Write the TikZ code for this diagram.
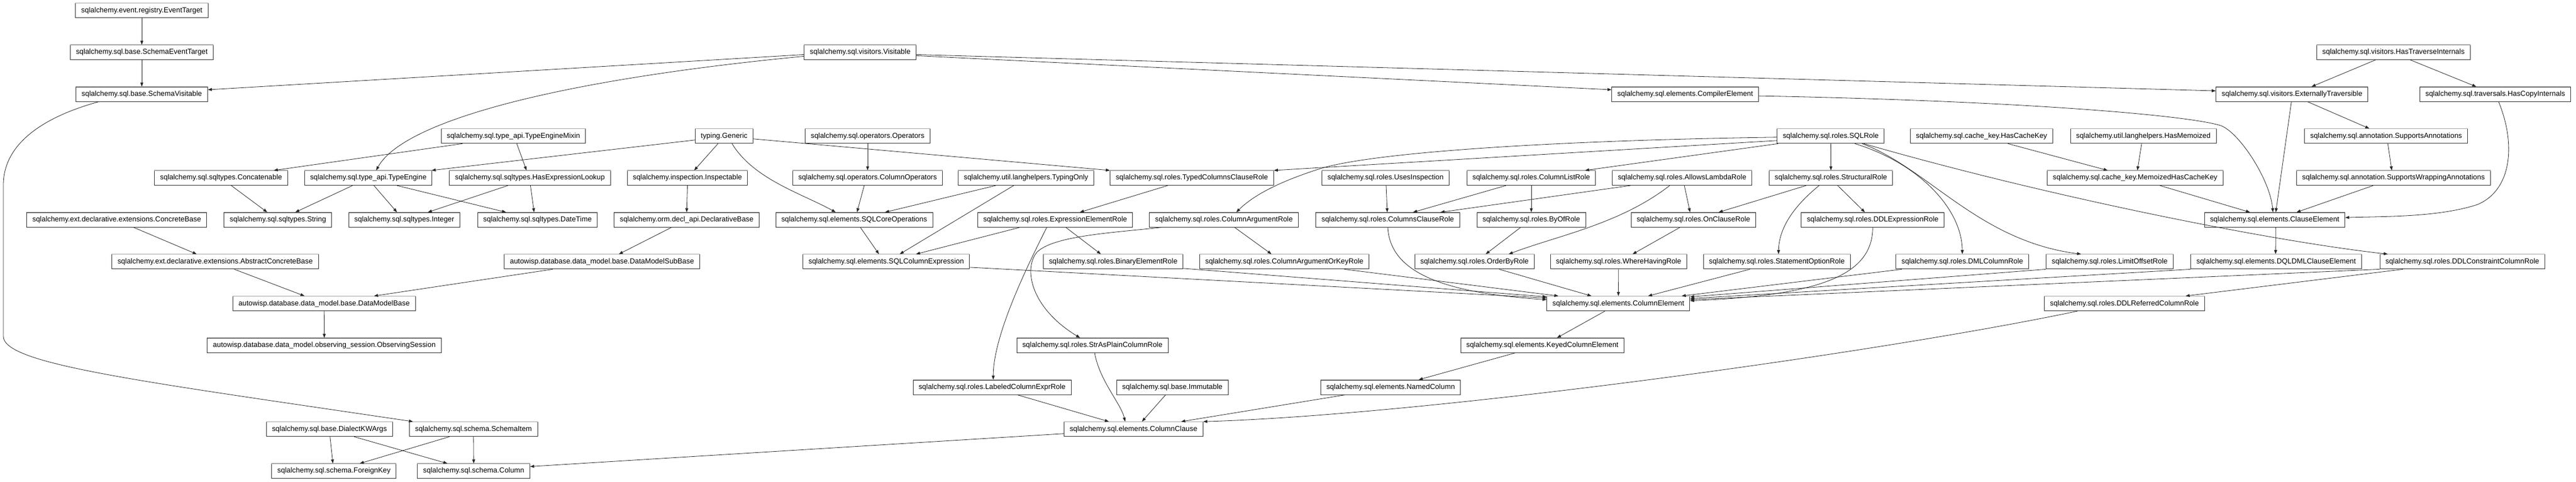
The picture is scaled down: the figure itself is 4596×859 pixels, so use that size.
\documentclass[tikz,border=0pt]{standalone}
\usepackage{fontspec}
\setmainfont{Liberation Sans}
\usetikzlibrary{arrows.meta,calc}
\tikzset{
  cls/.style={draw=black!80, line width=0.5pt, fill=white, inner xsep=5pt, inner ysep=0pt,
    minimum height=13pt, text height=4.8pt, text depth=1.4pt,
    font=\fontsize{6.45pt}{7pt}\selectfont,
    append after command={(\tikzlastnode.north west) edge[draw=black!35, line width=0.6pt] (\tikzlastnode.north east)}},
  inh/.style={draw=black!85, line width=0.4pt, -{Triangle[length=3.6pt,width=2.6pt]}}
}
\newcommand\inhSN[4]{\draw[inh] ($(#1.south)+(#2,0)$) -- ($(#3.north)+(#4,0)$);}
\begin{document}
\begin{tikzpicture}[x=0.5pt,y=-0.5pt]
\fill[white] (0,0) rectangle (4596,859);
\useasboundingbox (0,0) rectangle (4596,859);
% rank 0
\node[cls] (et) at (253,18.7) {sqlalchemy.event.registry.EventTarget};
% rank 1
\node[cls] (set) at (253,93.4) {sqlalchemy.sql.base.SchemaEventTarget};
\node[cls] (vis) at (1534.7,93.4) {sqlalchemy.sql.visitors.Visitable};
\node[cls] (hti) at (4270.3,93.4) {sqlalchemy.sql.visitors.HasTraverseInternals};
% rank 2
\node[cls] (sv) at (253,168.1) {sqlalchemy.sql.base.SchemaVisitable};
\node[cls] (ce) at (3006.7,168.1) {sqlalchemy.sql.elements.CompilerElement};
\node[cls] (ext) at (4089.2,168.1) {sqlalchemy.sql.visitors.ExternallyTraversible};
\node[cls] (hci) at (4451.9,168.1) {sqlalchemy.sql.traversals.HasCopyInternals};
% rank 3
\node[cls] (tem) at (916,242.8) {sqlalchemy.sql.type\_api.TypeEngineMixin};
\node[cls] (gen) at (1292,242.8) {typing.Generic};
\node[cls] (ops) at (1547.9,242.8) {sqlalchemy.sql.operators.Operators};
\node[cls] (sqlrole) at (3266.3,242.8) {sqlalchemy.sql.roles.SQLRole};
\node[cls] (hck) at (3535.4,242.8) {sqlalchemy.sql.cache\_key.HasCacheKey};
\node[cls] (hm) at (3824,242.8) {sqlalchemy.util.langhelpers.HasMemoized};
\node[cls] (sa) at (4257.2,242.8) {sqlalchemy.sql.annotation.SupportsAnnotations};
% rank 4
\node[cls] (conc) at (394.5,317.5) {sqlalchemy.sql.sqltypes.Concatenable};
\node[cls] (te) at (657.1,317.5) {sqlalchemy.sql.type\_api.TypeEngine};
\node[cls] (hel) at (945.4,317.5) {sqlalchemy.sql.sqltypes.HasExpressionLookup};
\node[cls] (insp) at (1226.5,317.5) {sqlalchemy.inspection.Inspectable};
\node[cls] (cops) at (1547.9,317.5) {sqlalchemy.sql.operators.ColumnOperators};
\node[cls] (to) at (1830.6,317.5) {sqlalchemy.util.langhelpers.TypingOnly};
\node[cls] (tccr) at (2126.5,317.5) {sqlalchemy.sql.roles.TypedColumnsClauseRole};
\node[cls] (ui) at (2472,317.5) {sqlalchemy.sql.roles.UsesInspection};
\node[cls] (clr) at (2732,317.5) {sqlalchemy.sql.roles.ColumnListRole};
\node[cls] (alr) at (3001.1,317.5) {sqlalchemy.sql.roles.AllowsLambdaRole};
\node[cls] (sr) at (3266.6,317.5) {sqlalchemy.sql.roles.StructuralRole};
\node[cls] (mhck) at (3809.4,317.5) {sqlalchemy.sql.cache\_key.MemoizedHasCacheKey};
\node[cls] (swa) at (4270.3,317.5) {sqlalchemy.sql.annotation.SupportsWrappingAnnotations};
% rank 5
\node[cls] (cb) at (208.3,392.2) {sqlalchemy.ext.declarative.extensions.ConcreteBase};
\node[cls] (str) at (495.8,392.2) {sqlalchemy.sql.sqltypes.String};
\node[cls] (int) at (721.3,392.2) {sqlalchemy.sql.sqltypes.Integer};
\node[cls] (dt) at (958.9,392.2) {sqlalchemy.sql.sqltypes.DateTime};
\node[cls] (db) at (1225.1,392.2) {sqlalchemy.orm.decl\_api.DeclarativeBase};
\node[cls] (sco) at (1524,392.2) {sqlalchemy.sql.elements.SQLCoreOperations};
\node[cls] (eer) at (1882.6,392.2) {sqlalchemy.sql.roles.ExpressionElementRole};
\node[cls] (car) at (2183.7,392.2) {sqlalchemy.sql.roles.ColumnArgumentRole};
\node[cls] (cclr) at (2476,392.2) {sqlalchemy.sql.roles.ColumnsClauseRole};
\node[cls] (bor) at (2732,392.2) {sqlalchemy.sql.roles.ByOfRole};
\node[cls] (ocr) at (3021.3,392.2) {sqlalchemy.sql.roles.OnClauseRole};
\node[cls] (dder) at (3341.2,392.2) {sqlalchemy.sql.roles.DDLExpressionRole};
\node[cls] (cle) at (4058.3,392.2) {sqlalchemy.sql.elements.ClauseElement};
% rank 6
\node[cls] (acb) at (383.9,466.9) {sqlalchemy.ext.declarative.extensions.AbstractConcreteBase};
\node[cls] (dmsb) at (1074.1,466.9) {autowisp.database.data\_model.base.DataModelSubBase};
\node[cls] (sce) at (1581.2,466.9) {sqlalchemy.sql.elements.SQLColumnExpression};
\node[cls] (ber) at (1986.1,466.9) {sqlalchemy.sql.roles.BinaryElementRole};
\node[cls] (caokr) at (2291.5,466.9) {sqlalchemy.sql.roles.ColumnArgumentOrKeyRole};
\node[cls] (obr) at (2630.7,466.9) {sqlalchemy.sql.roles.OrderByRole};
\node[cls] (whr) at (2887.8,466.9) {sqlalchemy.sql.roles.WhereHavingRole};
\node[cls] (sor) at (3170.1,466.9) {sqlalchemy.sql.roles.StatementOptionRole};
\node[cls] (dmlcr) at (3501.1,466.9) {sqlalchemy.sql.roles.DMLColumnRole};
\node[cls] (lor) at (3764,466.9) {sqlalchemy.sql.roles.LimitOffsetRole};
\node[cls] (dql) at (4061,466.9) {sqlalchemy.sql.elements.DQLDMLClauseElement};
\node[cls] (ddlc) at (4393.2,466.9) {sqlalchemy.sql.roles.DDLConstraintColumnRole};
% rank 7
\node[cls] (dmb) at (578.3,541.6) {autowisp.database.data\_model.base.DataModelBase};
\node[cls] (cole) at (2887.4,541.6) {sqlalchemy.sql.elements.ColumnElement};
\node[cls] (ddlr) at (3790.4,541.6) {sqlalchemy.sql.roles.DDLReferredColumnRole};
% rank 8
\node[cls] (os) at (578.6,616.3) {autowisp.database.data\_model.observing\_session.ObservingSession};
\node[cls] (sapc) at (1949,616.3) {sqlalchemy.sql.roles.StrAsPlainColumnRole};
\node[cls] (kce) at (2751.8,616.3) {sqlalchemy.sql.elements.KeyedColumnElement};
% rank 9
\node[cls] (lcer) at (1770.1,691) {sqlalchemy.sql.roles.LabeledColumnExprRole};
\node[cls] (imm) at (2091.6,691) {sqlalchemy.sql.base.Immutable};
\node[cls] (nc) at (2481.1,691) {sqlalchemy.sql.elements.NamedColumn};
% rank 10
\node[cls] (dkw) at (587.8,765.7) {sqlalchemy.sql.base.DialectKWArgs};
\node[cls] (si) at (844.8,765.7) {sqlalchemy.sql.schema.SchemaItem};
\node[cls] (cc) at (2022.4,765.7) {sqlalchemy.sql.elements.ColumnClause};
% rank 11
\node[cls] (fk) at (595.9,840.4) {sqlalchemy.sql.schema.ForeignKey};
\node[cls] (col) at (845.2,840.4) {sqlalchemy.sql.schema.Column};

% ---- straight edges (south to north) ----
\inhSN{et}{0}{set}{0}
\inhSN{set}{0}{sv}{0}
\inhSN{hti}{-32}{ext}{35}
\inhSN{hti}{30}{hci}{-34}
\inhSN{ext}{28}{sa}{-30}
\inhSN{ext}{-1}{cle}{2}
\inhSN{sa}{3}{swa}{-3}
\inhSN{swa}{-36}{cle}{39}
\inhSN{hck}{47}{mhck}{-49}
\inhSN{hm}{-3}{mhck}{4}
\inhSN{mhck}{44}{cle}{-44}
\inhSN{cle}{2}{dql}{-1}
\inhSN{tem}{-91}{conc}{94}
\inhSN{tem}{6}{hel}{-6}
\inhSN{conc}{18}{str}{-19}
\inhSN{te}{-28}{str}{31}
\inhSN{te}{10}{int}{-13}
\inhSN{te}{51}{dt}{-56}
\inhSN{hel}{-39}{int}{42}
\inhSN{hel}{1}{dt}{-6}
\inhSN{cb}{30}{acb}{-33}
\inhSN{acb}{34}{dmb}{-35}
\inhSN{dmsb}{-88}{dmb}{89}
\inhSN{db}{-27}{dmsb}{30}
\inhSN{insp}{0}{db}{0}
\inhSN{gen}{-11}{insp}{12}
\inhSN{ops}{0}{cops}{0}
\inhSN{cops}{-6}{sco}{5}
\inhSN{to}{-54}{sco}{55}
\inhSN{to}{-22}{sce}{24}
\inhSN{tccr}{-43}{eer}{44}
\inhSN{eer}{-63}{sce}{53}
\inhSN{eer}{19}{ber}{-22}
\inhSN{car}{19}{caokr}{-23}
\inhSN{sco}{11}{sce}{-13}
\inhSN{dmb}{0}{os}{0}
\inhSN{dkw}{1}{fk}{-2}
\inhSN{dkw}{44}{col}{-47}
\inhSN{si}{-43}{fk}{46}
\inhSN{si}{0}{col}{0}
\inhSN{ui}{1}{cclr}{-1}
\inhSN{clr}{-45}{cclr}{45}
\inhSN{clr}{0}{bor}{0}
\inhSN{alr}{-92}{cclr}{94}
\inhSN{alr}{4}{ocr}{-6}
\inhSN{bor}{-19}{obr}{20}
\inhSN{ocr}{-24}{whr}{25}
\inhSN{sr}{-44}{ocr}{45}
\inhSN{sr}{12}{dder}{-14}
\inhSN{sqlrole}{-94}{clr}{96}
\inhSN{sqlrole}{0}{sr}{0}
\inhSN{ddlc}{-106}{ddlr}{109}
\inhSN{cole}{-24}{kce}{26}
\inhSN{kce}{-49}{nc}{50}
\inhSN{lcer}{45}{cc}{-44}
\inhSN{imm}{-12}{cc}{15}
\inhSN{nc}{-81}{cc}{85}
\inhSN{caokr}{107}{cole}{-107}
\inhSN{obr}{44}{cole}{-48}
\inhSN{whr}{0}{cole}{0}
\inhSN{sor}{-48}{cole}{53}
\inhSN{dmlcr}{-108}{cole}{113}
\draw[inh] ($(sapc.south)+(4,0)$) .. controls (1962,680) and (2000,720) .. ($(cc.north)+(-15,0)$);

% ---- long / side edges ----
\draw[inh] ($(vis.west)+(0,4)$) -- ($(sv.east)+(0,-8)$);
\draw[inh] ($(vis.west)+(0,7)$) .. controls (1000,142) and (720,215) .. ($(te.north)+(14,0)$);
\draw[inh] ($(vis.east)+(0,6)$) -- ($(ce.west)+(0,-8)$);
\draw[inh] ($(vis.east)+(0,4)$) -- ($(ext.west)+(0,-6)$);
\draw[inh] ($(sv.south)+(-77,0)$) .. controls (90,205) and (6,250) .. (6,330)
  -- (6,600) .. controls (6,650) and (250,680) .. ($(si.north)+(-108,0)$);
\draw[inh] ($(gen.east)+(0,5)$) -- (tccr.north west);
\draw[inh] ($(gen.west)+(0,7)$) -- ($(te.north)+(113,0)$);
\draw[inh] ($(gen.south)+(14,0)$) .. controls (1345,320) and (1430,345) .. ($(sco.north)+(-33,0)$);
\draw[inh] ($(ce.east)+(0,3)$) .. controls (3600,180) and (3900,205) .. (3962,224)
  .. controls (3995,236) and (4050,320) .. ($(cle.north)+(-3,0)$);
\draw[inh] ($(hci.south)+(6,0)$) .. controls (4490,260) and (4480,340) .. (4420,365)
  .. controls (4350,388) and (4250,386) .. ($(cle.east)+(0,-4)$);
\draw[inh] ($(sqlrole.west)+(0,8)$) -- (tccr.north east);
\draw[inh] ($(sqlrole.west)+(0,2)$) .. controls (2800,250) and (2450,270) .. (2352,302)
  .. controls (2290,322) and (2240,345) .. ($(car.north)+(22,0)$);
\draw[inh] ($(sqlrole.south)+(43,0)$) .. controls (3420,290) and (3500,370) .. (dmlcr.north);
\draw[inh] ($(sqlrole.south)+(56,0)$) .. controls (3440,300) and (3530,430) .. ($(lor.north)+(-51,0)$);
\draw[inh] ($(sqlrole.south)+(59,0)$) .. controls (3650,350) and (4050,430) .. ($(ddlc.north)+(-133,0)$);
\draw[inh] ($(eer.south)+(-15,0)$) .. controls (1830,480) and (1772,600) .. ($(lcer.north)+(2,0)$);
\draw[inh] ($(car.south)+(-112,0)$) .. controls (1990,415) and (1880,420) .. (1850,450)
  .. controls (1825,480) and (1840,550) .. ($(sapc.north)+(-22,0)$);
\draw[inh] ($(alr.south)+(-22,0)$) .. controls (2890,400) and (2780,420) .. ($(obr.north)+(61,0)$);
\draw[inh] ($(sr.south)+(-21,0)$) .. controls (3210,360) and (3174,400) .. ($(sor.north)+(3,0)$);
\draw[inh] ($(ddlr.south)+(-84,0)$) .. controls (3350,630) and (2550,740) .. (cc.north east);
\draw[inh] ($(cc.west)+(0,8)$) -- ($(col.east)+(0,-8)$);
% into ColumnElement sides
\draw[inh] ($(sce.east)+(0,10)$) -- ($(cole.west)+(0,-10)$);
\draw[inh] ($(ber.east)+(0,12)$) -- ($(cole.west)+(0,-12)$);
\draw[inh] (cclr.south) .. controls (2480,480) and (2560,522) .. ($(cole.west)+(0,-7)$);
\draw[inh] (lor.south west) -- ($(cole.east)+(0,-12)$);
\draw[inh] (dql.south west) -- ($(cole.east)+(0,-9)$);
\draw[inh] (ddlc.south west) -- ($(cole.east)+(0,-7)$);
\draw[inh] (dder.south) .. controls (3341,490) and (3250,527) .. ($(cole.east)+(0,-5)$);
\end{tikzpicture}
\end{document}
